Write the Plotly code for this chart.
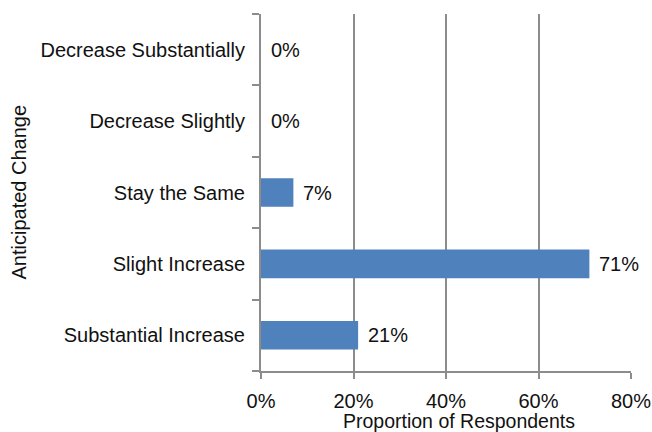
import plotly.graph_objects as go

categories = ["Decrease Substantially", "Decrease Slightly", "Stay the Same",
              "Slight Increase", "Substantial Increase"]
values = [0, 0, 7, 71, 21]
x_ticks = [0, 20, 40, 60, 80]
x_tick_labels = ["0%", "20%", "40%", "60%", "80%"]

FONT = "Liberation Sans, Arial, sans-serif"
GRID = "#8c8c8c"
BAR = "#4f81bd"
TEXT = "#111111"
SIZE = 20

fig = go.Figure()
fig.add_trace(go.Bar(
    x=values, y=categories, orientation="h",
    marker=dict(color=BAR, line=dict(width=0)),
    width=0.4,
    hoverinfo="skip",
))

# value labels to the right of each bar
for c, v in zip(categories, values):
    fig.add_annotation(
        x=v, y=c, xref="x", yref="y",
        text=f"{v}%", showarrow=False,
        xanchor="left", yanchor="middle", xshift=8,
        font=dict(family=FONT, size=SIZE, color=TEXT),
    )

fig.add_annotation(
    text="Proportion of Respondents", xref="paper", yref="paper",
    x=0.535, y=0, yshift=-50, xanchor="center", yanchor="middle",
    showarrow=False, font=dict(family=FONT, size=19.5, color=TEXT),
)
fig.add_annotation(
    text="Anticipated Change", xref="paper", yref="paper",
    x=0, xshift=-243, y=0.5, textangle=-90,
    xanchor="center", yanchor="middle",
    showarrow=False, font=dict(family=FONT, size=SIZE, color=TEXT),
)

fig.update_layout(
    width=652, height=432,
    margin=dict(l=261, r=21, t=14, b=61, autoexpand=False),
    paper_bgcolor="white", plot_bgcolor="white",
    showlegend=False,
    font=dict(family=FONT, size=SIZE, color=TEXT),
    xaxis=dict(
        range=[0, 80], tickvals=x_ticks, ticktext=x_tick_labels,
        showgrid=True, gridcolor=GRID, gridwidth=2,
        showline=True, linecolor=GRID, linewidth=2,
        ticks="outside", ticklen=6, tickwidth=2, tickcolor=GRID,
        zeroline=False, fixedrange=True, automargin=False,
        ticklabelstandoff=5,
    ),
    yaxis=dict(
        categoryorder="array", categoryarray=categories[::-1],
        showgrid=False, showline=True, linecolor=GRID, linewidth=2,
        ticks="outside", ticklen=7, tickwidth=2, tickcolor=GRID,
        tickson="boundaries", ticklabelstandoff=10,
        zeroline=False, fixedrange=True, automargin=False,
    ),
)

fig.write_html("out.html")
